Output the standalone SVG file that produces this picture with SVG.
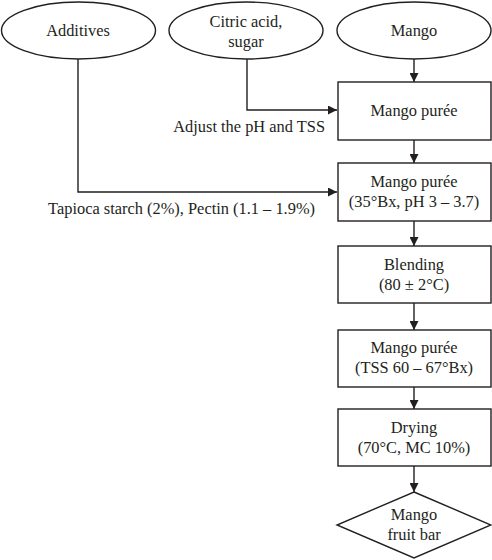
<svg xmlns="http://www.w3.org/2000/svg" width="492" height="560" viewBox="0 0 492 560">
<defs>
<style>
.s{fill:#fff;stroke:#231f20;stroke-width:1.4}
.c{fill:none;stroke:#231f20;stroke-width:1.4}
text{font-family:"Liberation Serif","Times New Roman",serif;font-size:16.4px;fill:#231f20}
.m{text-anchor:middle}
</style>
<marker id="ah" viewBox="0 0 10 10" refX="10" refY="5" markerWidth="9" markerHeight="9" markerUnits="userSpaceOnUse" orient="auto">
<path d="M0,0 L10,5 L0,10 Z" fill="#231f20"/>
</marker>
</defs>
<g id="connectors">
<path class="c" d="M78,59 V192 H337" marker-end="url(#ah)"/>
<path class="c" d="M247,59 V110 H337" marker-end="url(#ah)"/>
<path class="c" d="M414,59 V82" marker-end="url(#ah)"/>
<path class="c" d="M414,140 V163" marker-end="url(#ah)"/>
<path class="c" d="M414,221 V246" marker-end="url(#ah)"/>
<path class="c" d="M414,303 V330" marker-end="url(#ah)"/>
<path class="c" d="M414,387 V409" marker-end="url(#ah)"/>
<path class="c" d="M414,466 V492" marker-end="url(#ah)"/>
<text x="325" y="132" text-anchor="end">Adjust the pH and TSS</text>
<text x="315" y="214" text-anchor="end">Tapioca starch (2%), Pectin (1.1 – 1.9%)</text>
</g>
<g id="additives">
<ellipse class="s" cx="78.5" cy="30.5" rx="77" ry="28.5"/>
<text class="m" x="78" y="36">Additives</text>
</g>
<g id="citric">
<ellipse class="s" cx="246" cy="30.5" rx="77" ry="28.5"/>
<text class="m" x="246" y="27">Citric acid,</text>
<text class="m" x="246" y="47">sugar</text>
</g>
<g id="mango">
<ellipse class="s" cx="414" cy="30.5" rx="77" ry="28.5"/>
<text class="m" x="414" y="36">Mango</text>
</g>
<g id="puree1">
<rect class="s" x="338" y="82" width="153" height="58"/>
<text class="m" x="414" y="116">Mango purée</text>
</g>
<g id="puree2">
<rect class="s" x="338" y="163" width="153" height="58"/>
<text class="m" x="414" y="187">Mango purée</text>
<text class="m" x="414" y="207">(35°Bx, pH 3 – 3.7)</text>
</g>
<g id="blending">
<rect class="s" x="338" y="246" width="153" height="57"/>
<text class="m" x="414" y="270">Blending</text>
<text class="m" x="414" y="290">(80 ± 2°C)</text>
</g>
<g id="puree3">
<rect class="s" x="338" y="330" width="153" height="57"/>
<text class="m" x="414" y="353">Mango purée</text>
<text class="m" x="414" y="373">(TSS 60 – 67°Bx)</text>
</g>
<g id="drying">
<rect class="s" x="338" y="409" width="153" height="57"/>
<text class="m" x="414" y="433">Drying</text>
<text class="m" x="414" y="453">(70°C, MC 10%)</text>
</g>
<g id="bar">
<polygon class="s" points="414,492 491,525 414,558 337,525"/>
<text class="m" x="414" y="520">Mango</text>
<text class="m" x="414" y="540">fruit bar</text>
</g>
</svg>
